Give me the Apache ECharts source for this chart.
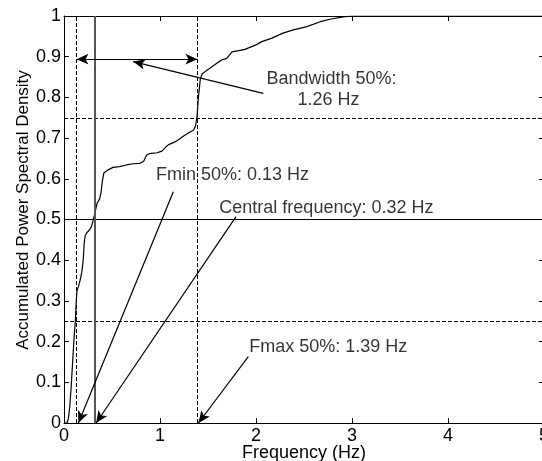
<!DOCTYPE html>
<html>
<head>
<meta charset="utf-8">
<script src="https://cdn.jsdelivr.net/npm/echarts@6/dist/echarts.min.js"></script>
<style>html,body{margin:0;padding:0;background:#fff}#c{width:542px;height:461px}</style>
</head>
<body>
<div id="c"></div>
<script>
// ---- data ----
const curveFreq = [0,0.03,0.045,0.06,0.075,0.09,0.105,0.118,0.128,0.135,0.15,0.167,0.185,0.2,0.21,0.22,0.24,0.26,0.285,0.30,0.316,0.33,0.345,0.37,0.385,0.40,0.415,0.46,0.51,0.58,0.65,0.72,0.79,0.83,0.86,0.89,0.97,1.02,1.06,1.09,1.15,1.2,1.25,1.3,1.35,1.37,1.385,1.40,1.42,1.44,1.49,1.57,1.64,1.695,1.75,1.82,1.885,2.0,2.06,2.16,2.28,2.39,2.53,2.67,2.77,2.91,3.0,5.0];
const curveAccum = [0,0,0.01,0.04,0.09,0.15,0.21,0.25,0.30,0.325,0.335,0.35,0.37,0.40,0.44,0.46,0.468,0.473,0.482,0.495,0.51,0.525,0.54,0.55,0.565,0.595,0.614,0.622,0.628,0.63,0.634,0.637,0.638,0.643,0.658,0.662,0.664,0.668,0.678,0.684,0.690,0.697,0.706,0.713,0.72,0.73,0.75,0.80,0.845,0.858,0.867,0.88,0.892,0.896,0.912,0.915,0.918,0.929,0.937,0.945,0.958,0.966,0.974,0.986,0.992,0.998,1.0,1.0];
const fminHz = 0.13, centralHz = 0.32, fmaxHz = 1.39;
const dashedLevels = [0.25, 0.75];
const solidLevel = 0.5;
const bandArrowLevel = 0.894;
const xTickValues = [0,1,2,3,4,5];
const yTickValues = [0,0.1,0.2,0.3,0.4,0.5,0.6,0.7,0.8,0.9,1];
// annotation arrows: [fromX, fromY] -> [toX, toY]
const arrowFrom = [[1.139,0.568],[1.792,0.507],[1.92,0.163],[2.076,0.810]];
const arrowTo   = [[0.15,0],[0.335,0],[1.40,0],[0.72,0.888]];
// annotation texts
const noteText = ['Fmin 50%: 0.13 Hz','Central frequency: 0.32 Hz','Fmax 50%: 1.39 Hz'];
const noteAt   = [[0.958,0.609],[1.618,0.5275],[1.93,0.1875]];
const bwText   = ['Bandwidth 50%:','1.26 Hz'];
const bwAt     = [[2.786,0.844],[2.755,0.794]];

const FONT = "'Liberation Sans', Arial, Helvetica, sans-serif";
const chart = echarts.init(document.getElementById('c'), null, {renderer:'canvas'});

const baseAxis = {
  type:'value', min:0, splitLine:{show:false},
  axisLine:{show:true, onZero:false, lineStyle:{color:'#000', width:1}},
  axisTick:{show:true, inside:true, length:5, lineStyle:{color:'#000'}},
};

const dashed = {color:'#000', width:1, type:[4,2]};

const markLines = [];
dashedLevels.forEach(v => markLines.push({yAxis:v, lineStyle:dashed}));
markLines.push({yAxis:solidLevel, lineStyle:{color:'#000', width:1, type:'solid'}});
markLines.push({xAxis:fminHz, lineStyle:dashed});
markLines.push({xAxis:fmaxHz, lineStyle:dashed});
markLines.push({xAxis:centralHz, lineStyle:{color:'#555', width:2, type:'solid'}});

const arrowLines = arrowFrom.map((f,i)=>[
  {coord:f, symbol:'none'},
  {coord:arrowTo[i], symbol:'arrow'}
]);
arrowLines.push([
  {coord:[fminHz, bandArrowLevel], symbol:'arrow'},
  {coord:[fmaxHz, bandArrowLevel], symbol:'arrow'}
]);

const labelSeries = (texts, pts, pos, align) => ({
  type:'scatter', silent:true, symbolSize:0.01, z:10,
  itemStyle:{color:'#000'},
  data: pts.map((p,i)=>({value:p, name:texts[i]})),
  label:{show:true, formatter:p=>p.name, position:pos, distance:0, align:align,
         color:'#000', fontSize:18, fontFamily:FONT, textBorderWidth:0}
});

chart.setOption({
  animation:false,
  backgroundColor:'#fff',
  grid:{left:64, top:16, right:-2, bottom:38, containLabel:false, outerBoundsMode:'none'},
  xAxis:[
    Object.assign({}, baseAxis, {position:'bottom', max:5, interval:1,
      axisLabel:{show:true, margin:4, color:'#000', fontSize:18, fontFamily:FONT,
        hideOverlap:false, formatter:v=>String(v)}}),
    Object.assign({}, baseAxis, {position:'top', max:5, interval:1, axisLabel:{show:false}})
  ],
  yAxis:[
    Object.assign({}, baseAxis, {position:'left', max:1, interval:0.1,
      axisLabel:{show:true, margin:3, color:'#000', fontSize:18, fontFamily:FONT,
        formatter:v=>String(+v.toFixed(1))}}),
    Object.assign({}, baseAxis, {position:'right', max:1, interval:0.1, axisLabel:{show:false}})
  ],
  graphic:[
    {type:'text', position:[304,453], style:{text:'Frequency (Hz)', font:'18px '+FONT, fill:'#000', textAlign:'center', textVerticalAlign:'middle'}},
    {type:'text', rotation:Math.PI/2, position:[23,210], style:{text:'Accumulated Power Spectral Density', font:'17px '+FONT, fill:'#000', textAlign:'center', textVerticalAlign:'middle'}}
  ],
  series:[
    {
      type:'line', data:curveFreq.map((x,i)=>[x, curveAccum[i]]),
      showSymbol:false, symbol:'none', silent:true,
      lineStyle:{color:'#000', width:1.2},
      markLine:{silent:true, symbol:'none', label:{show:false}, animation:false, data:markLines}
    },
    {
      type:'line', data:[], silent:true,
      markLine:{silent:true, symbolSize:[8,12], label:{show:false}, animation:false,
        lineStyle:{color:'#000', width:1.2, type:'solid'}, data:arrowLines}
    },
    labelSeries(noteText, noteAt, 'right', 'left'),
    labelSeries(bwText, bwAt, 'inside', 'center')
  ]
});
</script>
</body>
</html>
